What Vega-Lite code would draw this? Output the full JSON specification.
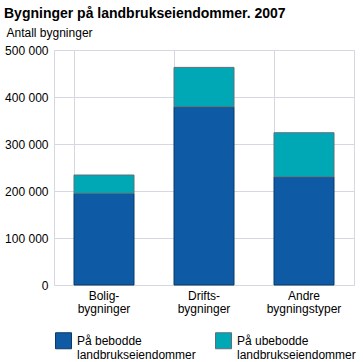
{
  "$schema": "https://vega.github.io/schema/vega-lite/v6.json",
  "width": 300,
  "height": 235,
  "autosize": {"type": "none"},
  "padding": {"left": 54, "top": 50, "right": 9, "bottom": 77},
  "title": {
    "text": "Bygninger på landbrukseiendommer. 2007",
    "anchor": "start",
    "frame": "group",
    "dx": -50,
    "fontSize": 14,
    "fontWeight": "bold",
    "font": "Liberation Sans",
    "color": "#000000",
    "offset": 5
  },
  "data": {
    "values": [
      {"kategori": "Bolig-|bygninger", "serie": "På bebodde|landbrukseiendommer", "ord": 1, "antall": 195000},
      {"kategori": "Bolig-|bygninger", "serie": "På ubebodde|landbrukseiendommer", "ord": 2, "antall": 39000},
      {"kategori": "Drifts-|bygninger", "serie": "På bebodde|landbrukseiendommer", "ord": 1, "antall": 379000},
      {"kategori": "Drifts-|bygninger", "serie": "På ubebodde|landbrukseiendommer", "ord": 2, "antall": 84000},
      {"kategori": "Andre|bygningstyper", "serie": "På bebodde|landbrukseiendommer", "ord": 1, "antall": 230000},
      {"kategori": "Andre|bygningstyper", "serie": "På ubebodde|landbrukseiendommer", "ord": 2, "antall": 94000}
    ]
  },
  "mark": {"type": "bar", "strokeWidth": 1},
  "encoding": {
    "x": {
      "field": "kategori",
      "type": "nominal",
      "sort": null,
      "scale": {"paddingInner": 0.4, "paddingOuter": 0.2},
      "axis": {
        "title": null,
        "labelAngle": 0,
        "labelExpr": "split(datum.label, '|')",
        "labelFontSize": 12,
        "labelColor": "#000000",
        "labelPadding": 5,
        "labelLineHeight": 13,
        "ticks": false,
        "domain": false,
        "grid": true,
        "bandPosition": 0,
        "gridColor": "#d5d8e0"
      }
    },
    "y": {
      "field": "antall",
      "type": "quantitative",
      "stack": "zero",
      "scale": {"domain": [0, 500000]},
      "axis": {
        "title": "Antall bygninger",
        "titleAngle": 0,
        "titleAlign": "left",
        "titleBaseline": "alphabetic",
        "titleX": -48,
        "titleY": -14,
        "titleFontSize": 12,
        "titleFontWeight": "normal",
        "titleColor": "#000000",
        "values": [0, 100000, 200000, 300000, 400000, 500000],
        "labelExpr": "replace(format(datum.value, ','), /,/g, ' ')",
        "labelFontSize": 12,
        "labelColor": "#000000",
        "labelPadding": 6,
        "ticks": false,
        "domain": false,
        "gridColor": "#d5d8e0"
      }
    },
    "order": {"field": "ord", "type": "quantitative"},
    "color": {
      "field": "serie",
      "type": "nominal",
      "scale": {"range": ["#0f5aa5", "#00a8b6"]},
      "legend": {
        "title": null,
        "orient": "none",
        "legendX": 1,
        "legendY": 282,
        "direction": "horizontal",
        "columns": 2,
        "columnPadding": 17,
        "symbolType": "square",
        "symbolSize": 256,
        "symbolStrokeColor": "#888888",
        "symbolStrokeWidth": 1,
        "labelExpr": "split(datum.label, '|')",
        "labelFontSize": 12,
        "labelColor": "#000000",
        "labelOffset": 5,
        "labelLimit": 200
      }
    },
    "stroke": {
      "field": "serie",
      "type": "nominal",
      "scale": {"range": ["#0b3a66", "#5f6f7a"]},
      "legend": null
    }
  },
  "config": {
    "font": "Liberation Sans",
    "view": {"stroke": "#d5d8e0"},
    "background": "#ffffff"
  }
}
